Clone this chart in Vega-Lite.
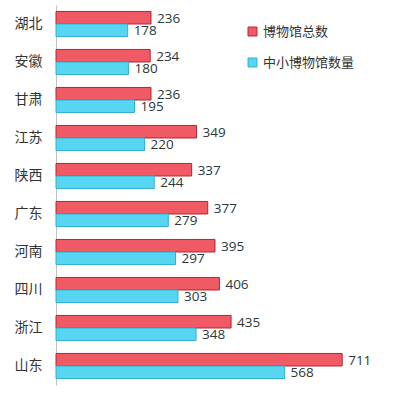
{
  "$schema": "https://vega.github.io/schema/vega-lite/v6.json",
  "width": 322,
  "height": 380,
  "autosize": {"type": "none"},
  "padding": {"left": 56, "top": 5, "right": 22, "bottom": 12},
  "background": "white",
  "config": {"view": {"stroke": null}},
  "data": {
    "values": [
      {"province": "湖北", "series": "博物馆总数", "value": 236},
      {"province": "湖北", "series": "中小博物馆数量", "value": 178},
      {"province": "安徽", "series": "博物馆总数", "value": 234},
      {"province": "安徽", "series": "中小博物馆数量", "value": 180},
      {"province": "甘肃", "series": "博物馆总数", "value": 236},
      {"province": "甘肃", "series": "中小博物馆数量", "value": 195},
      {"province": "江苏", "series": "博物馆总数", "value": 349},
      {"province": "江苏", "series": "中小博物馆数量", "value": 220},
      {"province": "陕西", "series": "博物馆总数", "value": 337},
      {"province": "陕西", "series": "中小博物馆数量", "value": 244},
      {"province": "广东", "series": "博物馆总数", "value": 377},
      {"province": "广东", "series": "中小博物馆数量", "value": 279},
      {"province": "河南", "series": "博物馆总数", "value": 395},
      {"province": "河南", "series": "中小博物馆数量", "value": 297},
      {"province": "四川", "series": "博物馆总数", "value": 406},
      {"province": "四川", "series": "中小博物馆数量", "value": 303},
      {"province": "浙江", "series": "博物馆总数", "value": 435},
      {"province": "浙江", "series": "中小博物馆数量", "value": 348},
      {"province": "山东", "series": "博物馆总数", "value": 711},
      {"province": "山东", "series": "中小博物馆数量", "value": 568}
    ]
  },
  "encoding": {
    "y": {
      "field": "province",
      "type": "nominal",
      "sort": ["湖北", "安徽", "甘肃", "江苏", "陕西", "广东", "河南", "四川", "浙江", "山东"],
      "scale": {"paddingInner": 0.34, "paddingOuter": 0.17},
      "axis": {
        "title": null,
        "ticks": false,
        "labelPadding": 14,
        "labelFontSize": 14,
        "labelColor": "#333333",
        "labelFont": "Noto Sans CJK SC",
        "domainColor": "#c0c0c0",
        "domainWidth": 1
      }
    },
    "yOffset": {"field": "series", "type": "nominal", "sort": ["博物馆总数", "中小博物馆数量"]},
    "x": {"field": "value", "type": "quantitative", "scale": {"domain": [0, 800]}, "axis": null}
  },
  "layer": [
    {
      "mark": {"type": "bar", "strokeWidth": 1},
      "encoding": {
        "color": {
          "field": "series",
          "type": "nominal",
          "sort": ["博物馆总数", "中小博物馆数量"],
          "scale": {"domain": ["博物馆总数", "中小博物馆数量"], "range": ["#ef5a64", "#58d5f1"]},
          "legend": {
            "title": null,
            "orient": "none",
            "legendX": 190,
            "legendY": 20,
            "symbolType": "square",
            "symbolSize": 80,
            "symbolStrokeWidth": 1,
            "labelFontSize": 13,
            "labelFont": "Noto Sans CJK SC",
            "labelColor": "#333333",
            "rowPadding": 17,
            "labelOffset": 4
          }
        },
        "stroke": {
          "field": "series",
          "type": "nominal",
          "scale": {"domain": ["博物馆总数", "中小博物馆数量"], "range": ["#b52630", "#2fb0d2"]},
          "legend": null
        }
      }
    },
    {
      "mark": {"type": "text", "align": "left", "baseline": "middle", "dx": 6, "dy": 1, "fontSize": 13.5, "font": "Open Sans", "color": "#2b3838"},
      "encoding": {"text": {"field": "value", "type": "quantitative"}}
    }
  ]
}
